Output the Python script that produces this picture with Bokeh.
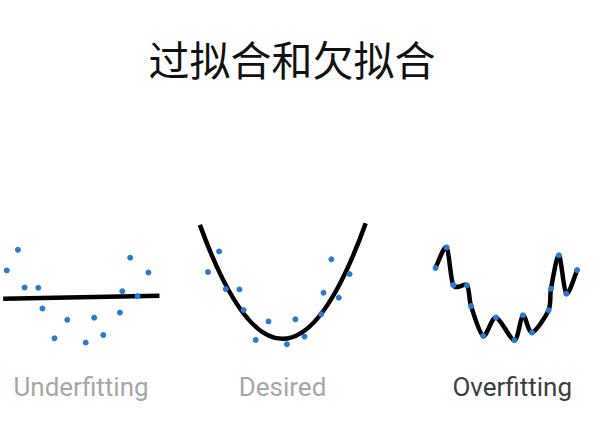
from bokeh.plotting import figure
from bokeh.models import Range1d, Label
from bokeh.embed import file_html
from bokeh.resources import INLINE

# ---- data (shared sample) ----
x_vals = [6.3, 17.4, 24.1, 37.8, 41.9, 54.0, 66.8, 85.2, 93.7, 102.8, 119.4, 121.8, 129.7, 137.1, 147.9]
y_vals = [80.1, 100.7, 63.0, 62.7, 42.0, 12.2, 30.7, 7.9, 32.8, 15.5, 37.9, 59.3, 92.8, 54.4, 78.0]

# underfit: straight line fit (end points)
line_x = [2.7, 159.0]
line_y = [51.7, 54.7]

# desired: quadratic fit  y = k + a (x - h)^2
quad_a = 0.0167
quad_h = 80.8
quad_k = 13.3
quad_x = [-1.8, 164.0]

title_text = "过拟合和欠拟合"
panel_labels = ["Underfitting", "Desired", "Overfitting"]
label_colors = ["#a7a7a7", "#a7a7a7", "#3d3d3d"]

# panel placement (plot units)
panel_x0 = [0.0, 201.2, 428.7]
panel_y0 = [76.0, 74.4, 78.4]
label_x = [80.5, 282.0, 511.7]

W, H = 599, 426
p = figure(width=W, height=H, output_backend="svg", toolbar_location=None,
           x_range=Range1d(0, W), y_range=Range1d(0, H), min_border=0)
p.axis.visible = False
p.grid.visible = False
p.outline_line_color = None
p.background_fill_color = "white"
p.border_fill_color = "white"

BLUE = "#2a7ad5"
LW = 4.5

def shift(xs, ys, i):
    return [x + panel_x0[i] for x in xs], [y + panel_y0[i] for y in ys]

# --- panel 1: underfitting ---
lx, ly = shift(line_x, line_y, 0)
p.line(lx, ly, line_color="black", line_width=LW)
px, py = shift(x_vals, y_vals, 0)
p.scatter(px, py, size=5, color=BLUE)

# --- panel 2: desired (parabola as one quadratic bezier) ---
x0, x1 = quad_x
y0 = quad_k + quad_a * (x0 - quad_h) ** 2
y1 = quad_k + quad_a * (x1 - quad_h) ** 2
cx = (x0 + x1) / 2
cy = y0 + 2 * quad_a * (x0 - quad_h) * (cx - x0)
(qx0, qx1, qcx), (qy0, qy1, qcy) = shift([x0, x1, cx], [y0, y1, cy], 1)
p.quadratic(x0=[qx0], y0=[qy0], x1=[qx1], y1=[qy1], cx=[qcx], cy=[qcy],
            line_color="black", line_width=LW)
px, py = shift(x_vals, y_vals, 1)
p.scatter(px, py, size=5, color=BLUE)

# --- panel 3: overfitting (smooth curve through every point) ---
ox, oy = shift(x_vals, y_vals, 2)
n = len(ox)
bx0, by0, bx1, by1, c0x, c0y, c1x, c1y = [], [], [], [], [], [], [], []
T = 7.0
for i in range(n - 1):
    pm = max(i - 1, 0)
    pp = min(i + 2, n - 1)
    bx0.append(ox[i]); by0.append(oy[i])
    bx1.append(ox[i + 1]); by1.append(oy[i + 1])
    c0x.append(ox[i] + (ox[i + 1] - ox[pm]) / T)
    c0y.append(oy[i] + (oy[i + 1] - oy[pm]) / T)
    c1x.append(ox[i + 1] - (ox[pp] - ox[i]) / T)
    c1y.append(oy[i + 1] - (oy[pp] - oy[i]) / T)
p.bezier(x0=bx0, y0=by0, x1=bx1, y1=by1, cx0=c0x, cy0=c0y, cx1=c1x, cy1=c1y,
         line_color="black", line_width=LW)
p.scatter(ox, oy, size=5, color=BLUE)

# --- texts ---
p.add_layout(Label(x=291.5, y=H - 57, text=title_text, text_align="center",
                   text_baseline="middle", text_font="Noto Sans CJK SC",
                   text_font_size="41px", text_color="#111111"))
for i in range(3):
    p.add_layout(Label(x=label_x[i], y=H - 386, text=panel_labels[i],
                       text_align="center", text_baseline="alphabetic",
                       text_font="Roboto", text_font_size="26px",
                       text_color=label_colors[i]))

open("out.html", "w").write(file_html(p, INLINE))
